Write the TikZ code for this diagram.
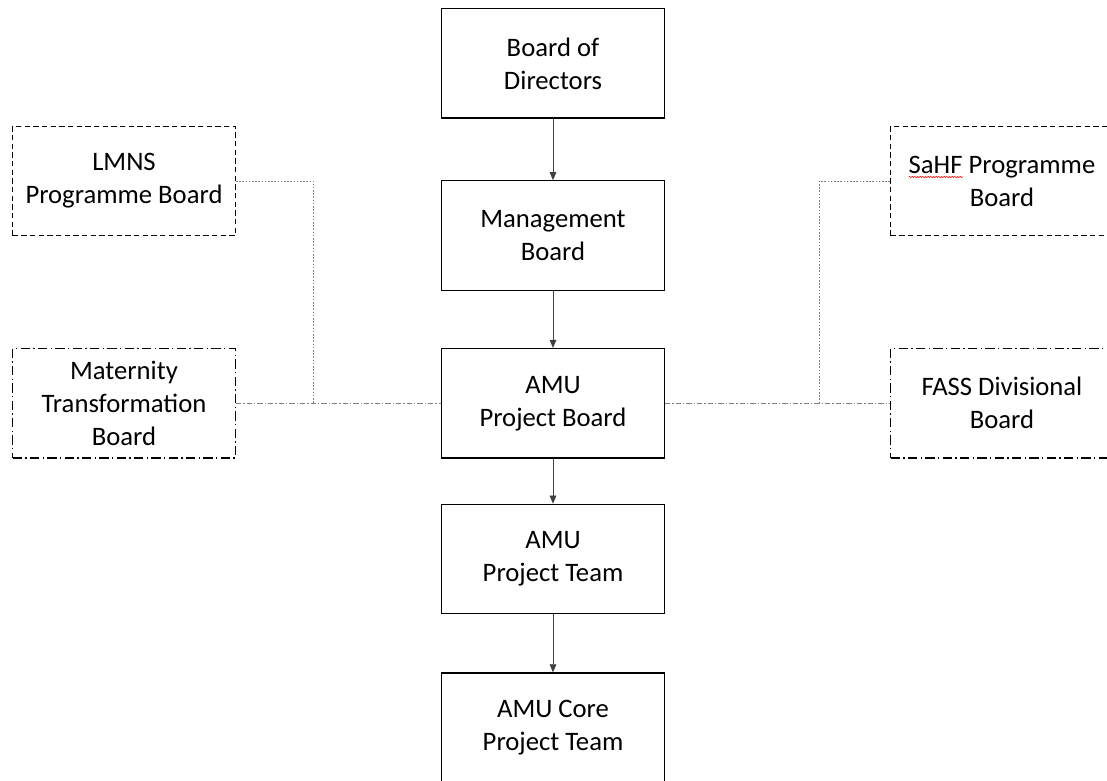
\documentclass[tikz,border=0pt]{standalone}
\usepackage{fontspec}
\setmainfont{Carlito}
\usetikzlibrary{positioning,arrows.meta,decorations.pathmorphing}

\begin{document}
\begin{tikzpicture}[x=0.75pt,y=-0.75pt]
        \useasboundingbox (0,0) rectangle (1107,781);
        \clip (0,0) rectangle (1107,781);

        \tikzstyle{box} = [draw, line width=1pt, align=center, inner sep=2pt, minimum width=167pt, minimum height=82pt, font=\fontsize{20}{24.75}\selectfont]
        \tikzstyle{dashbox} = [box, dash pattern=on 4pt off 2.5pt]
        \tikzstyle{dotdashbox} = [box, dash pattern=on 7pt off 2.5pt on 1pt off 2.5pt]
        \tikzstyle{arr} = [-{Triangle[length=6pt,width=5pt]}, line width=0.5pt, black!75]
        \tikzstyle{link} = [line width=0.6pt, gray, dash pattern=on 1.2pt off 1.2pt]
        \tikzstyle{linkdd} = [line width=0.6pt, gray, dash pattern=on 4pt off 1.5pt on 1pt off 1.5pt]
        \tikzstyle{spell} = [red, line width=0.4pt, decorate, decoration={snake, amplitude=0.5pt, segment length=2pt}]

        % main chain
        \node (bod) [box] at (553,63.5) {Board of\\Directors};
        \node (mgmt) [box, below=46pt of bod] {Management\\Board};
        \node (pboard) [box, below=42.8pt of mgmt] {AMU\\Project Board};
        \node (pteam) [box, below=33.8pt of pboard] {AMU\\Project Team};
        \node (core) [box, below=43.5pt of pteam] {AMU Core\\Project Team};

        % side boards
        \node (lmns) [dashbox] at (124,181) {LMNS\\Programme Board};
        \node (mat) [dotdashbox] at (lmns |- pboard) {Maternity\\Transformation\\Board};
        \node (sahf) [dashbox] at (1002,181) {SaHF Programme\\Board};
        \node (fass) [dotdashbox] at (sahf |- pboard) {FASS Divisional\\Board};

        \coordinate (ljoin) at ([xshift=58pt]lmns.east |- pboard.west);
        \coordinate (rjoin) at ([xshift=-53pt]sahf.west |- pboard.east);

        \draw[arr] (bod) -- (mgmt);
        \draw[arr] (mgmt) -- (pboard);
        \draw[arr] (pboard) -- (pteam);
        \draw[arr] (pteam) -- (core);

        \draw[link] (lmns.east) -| (ljoin);
        \draw[link] (sahf.west) -| (rjoin);
        \draw[linkdd] (mat) -- (pboard);
        \draw[linkdd] (pboard) -- (fass);

        % spelling mark under SaHF
        \fontsize{20}{24.75}\selectfont
        \pgfmathsetmacro{\linew}{width("SaHF Programme")}
        \pgfmathsetmacro{\wordw}{width("SaHF")}
        \draw[spell] ([xshift=-\linew pt/2, yshift=3pt]sahf.center) -- ++(\wordw pt,0);

    \end{tikzpicture}
\end{document}
